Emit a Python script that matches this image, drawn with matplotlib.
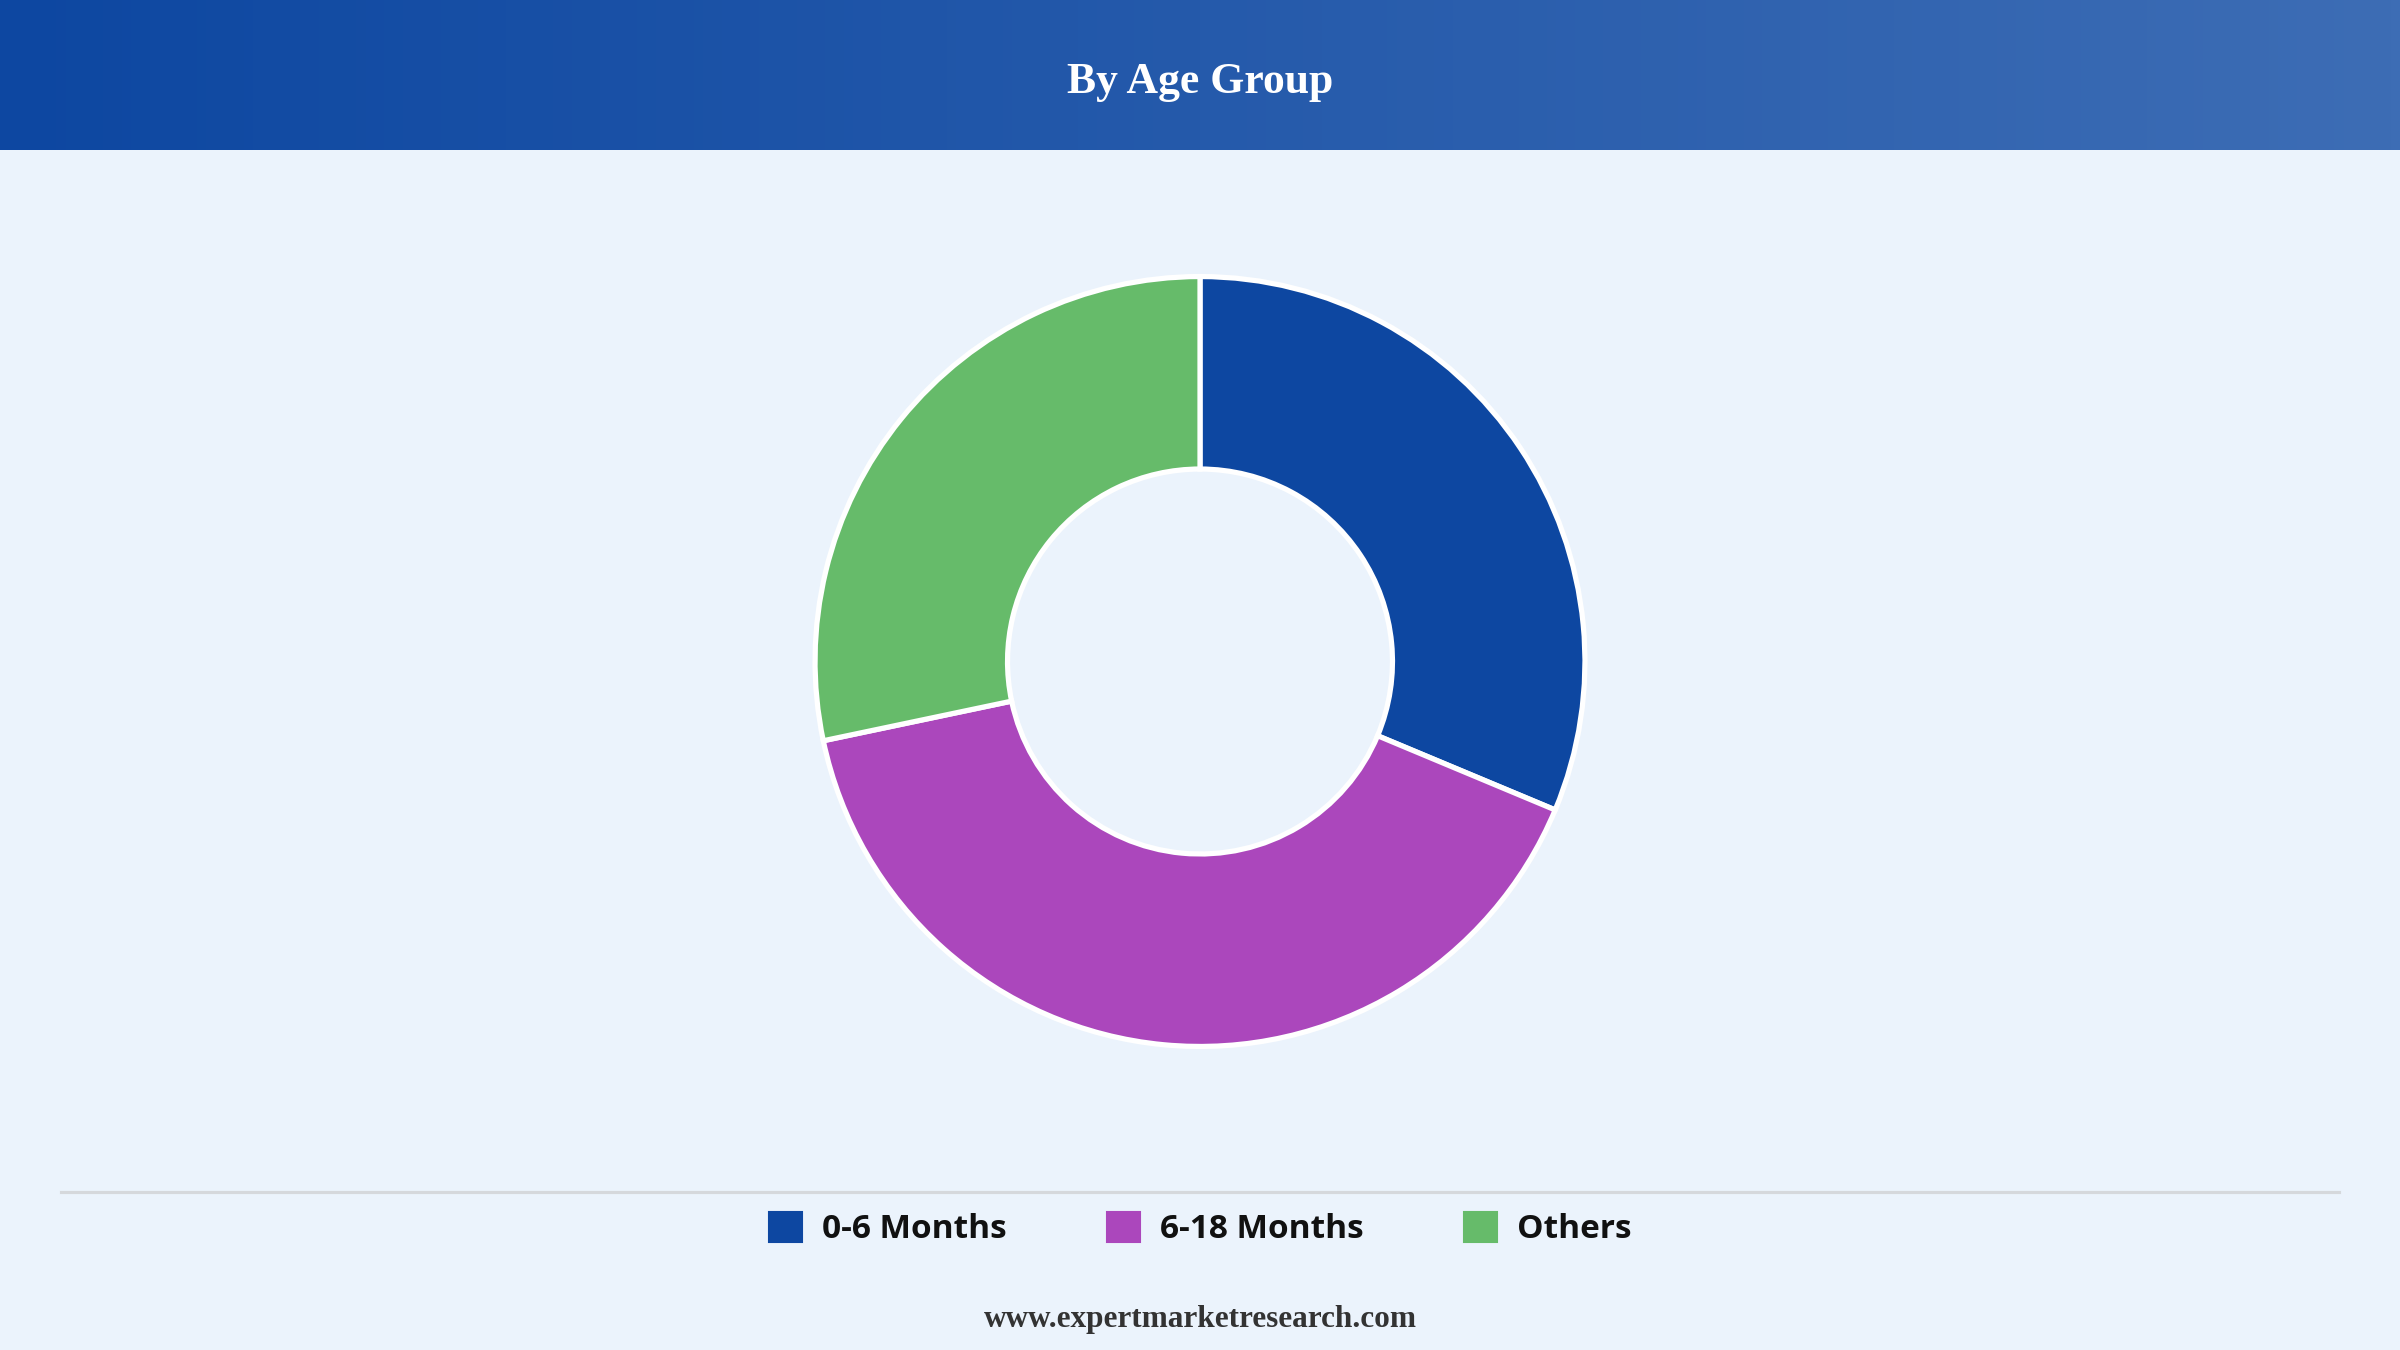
import matplotlib
matplotlib.use("Agg")
import matplotlib.pyplot as plt
import numpy as np
from matplotlib.patches import Patch
from matplotlib.lines import Line2D

categories = ["0-6 Months", "6-18 Months", "Others"]
values = [31.3, 40.4, 28.3]
colors = ["#0D47A1", "#AB47BC", "#66BB6A"]

fig = plt.figure(figsize=(16, 9), dpi=150)
fig.patch.set_facecolor("#EBF3FC")

# header gradient
hax = fig.add_axes([0, 1 - 98/882, 1, 98/882])
grad = np.linspace(0, 1, 256).reshape(1, -1)
from matplotlib.colors import LinearSegmentedColormap
cmap = LinearSegmentedColormap.from_list("h", ["#0D47A1", "#3D6DB5"])
hax.imshow(grad, aspect="auto", cmap=cmap, extent=[0, 1, 0, 1])
hax.set_axis_off()
hax.text(0.5, 0.45, "By Age Group", color="white", fontsize=21, fontweight="bold",
         family="Liberation Serif", ha="center", va="center", transform=hax.transAxes)

# donut
h = 2 * 0.288
w = h * 9 / 16
ax = fig.add_axes([0.5 - w/2, 0.51 - h/2, w, h])
ax.set_facecolor("none")
ax.pie(values, colors=colors, startangle=90, counterclock=False, radius=1,
       wedgeprops=dict(width=0.5, edgecolor="white", linewidth=2.5))
ax.set_xlim(-1.01, 1.01)
ax.set_ylim(-1.01, 1.01)
ax.set_aspect("equal")
ax.set_axis_off()

# separator
fig.add_artist(Line2D([0.0255, 0.9745], [1 - 779/882] * 2, color="#D5D8DC", lw=1.5,
                      transform=fig.transFigure))

handles = [Patch(facecolor=c, edgecolor=c, label=l) for c, l in zip(colors, categories)]
leg = fig.legend(handles=handles, loc="center", bbox_to_anchor=(0.5, 1 - 803/882), ncol=3,
                 frameon=False, prop=dict(family="Open Sans", weight="bold", size=16),
                 handlelength=1.0, handleheight=1.0, columnspacing=3.0, handletextpad=0.6)
for t in leg.get_texts():
    t.set_color("#111111")

fig.text(0.5, 1 - 862/882, "www.expertmarketresearch.com", ha="center", va="center",
         fontsize=15, fontweight="bold", family="Liberation Serif", color="#333333")

fig.savefig("out.png", dpi=150, facecolor=fig.get_facecolor())
